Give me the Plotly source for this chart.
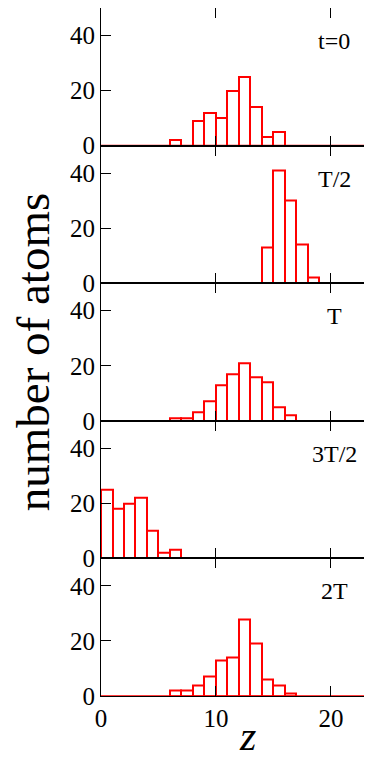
import plotly.graph_objects as go
from plotly.subplots import make_subplots

# bin left edges (bin width = 1)
bin_edges = list(range(0, 20))

counts_t0 = [0, 0, 0, 0, 0, 0, 2, 0, 9, 12, 10, 20, 25, 14, 3, 5, 0, 0, 0, 0]
counts_T2 = [0, 0, 0, 0, 0, 0, 0, 0, 0, 0, 0, 0, 0, 0, 13, 41, 30, 14, 2, 0]
counts_T = [0, 0, 0, 0, 0, 0, 1, 1, 3, 7, 13, 17, 21, 16, 14, 5, 2, 0, 0, 0]
counts_3T2 = [25, 18, 20, 22, 10, 2, 3, 0, 0, 0, 0, 0, 0, 0, 0, 0, 0, 0, 0, 0]
counts_2T = [0, 0, 0, 0, 0, 0, 2, 2, 4, 7, 13, 14, 28, 19, 6, 4, 1, 0, 0, 0]

panel_counts = [counts_t0, counts_T2, counts_T, counts_3T2, counts_2T]
panel_labels = ["t=0", "T/2", "T", "3T/2", "2T"]

y_ticks = [0, 20, 40]
x_ticks = [0, 10, 20]

SERIF = "Liberation Serif"
RED = "#ff0000"

fig = make_subplots(rows=5, cols=1, shared_xaxes=True, vertical_spacing=0)

for i, counts in enumerate(panel_counts):
    row = i + 1
    xs = [e + 0.5 for e, c in zip(bin_edges, counts) if c > 0]
    ys = [c for c in counts if c > 0]
    # baseline
    fig.add_trace(go.Scatter(x=[0, 25], y=[0, 0], mode="lines",
                             line=dict(color=RED, width=1.5),
                             showlegend=False, hoverinfo="skip"), row=row, col=1)
    fig.add_trace(go.Bar(x=xs, y=ys, width=1,
                         marker=dict(color="white", line=dict(color=RED, width=2)),
                         cliponaxis=False, showlegend=False), row=row, col=1)
    fig.update_yaxes(range=[0, 50], tickvals=y_ticks, ticks="inside", ticklen=10,
                     tickwidth=1.2, tickcolor="black", showline=True, linecolor="black",
                     linewidth=1.2, showgrid=False, zeroline=False,
                     tickfont=dict(family=SERIF, size=25, color="black"),
                     row=row, col=1)
    fig.update_xaxes(range=[0, 23.57], tickvals=x_ticks, ticks="inside", ticklen=10,
                     tickwidth=1.2, tickcolor="black", showline=True, linecolor="black",
                     linewidth=1, mirror="ticks", showgrid=False, zeroline=False,
                     showticklabels=(row == 5),
                     tickfont=dict(family=SERIF, size=25, color="black"),
                     row=row, col=1)
    yref = "y" if row == 1 else f"y{row}"
    xref = "x" if row == 1 else f"x{row}"
    fig.add_annotation(x=20.3, y=38, xref=xref, yref=yref, text=panel_labels[i],
                       showarrow=False, xanchor="center", yanchor="middle",
                       font=dict(family=SERIF, size=24, color="black"))

fig.add_annotation(x=-0.25, y=0.5, xref="paper", yref="paper",
                   text="number of atoms", textangle=-90, showarrow=False,
                   xanchor="center", yanchor="middle",
                   font=dict(family=SERIF, size=47, color="black"))
fig.add_annotation(x=12.7, y=-0.058, xref="x5", yref="paper",
                   text="<i>z</i>", showarrow=False,
                   xanchor="center", yanchor="middle",
                   font=dict(family=SERIF, size=42, color="black"))

# page body has an 8px margin: compensate so the plot lands where the reference has it
fig.update_layout(width=364, height=753, margin=dict(l=93, r=0, t=0, b=65),
                  plot_bgcolor="white", paper_bgcolor="white", bargap=0)

fig.write_html("out.html")
